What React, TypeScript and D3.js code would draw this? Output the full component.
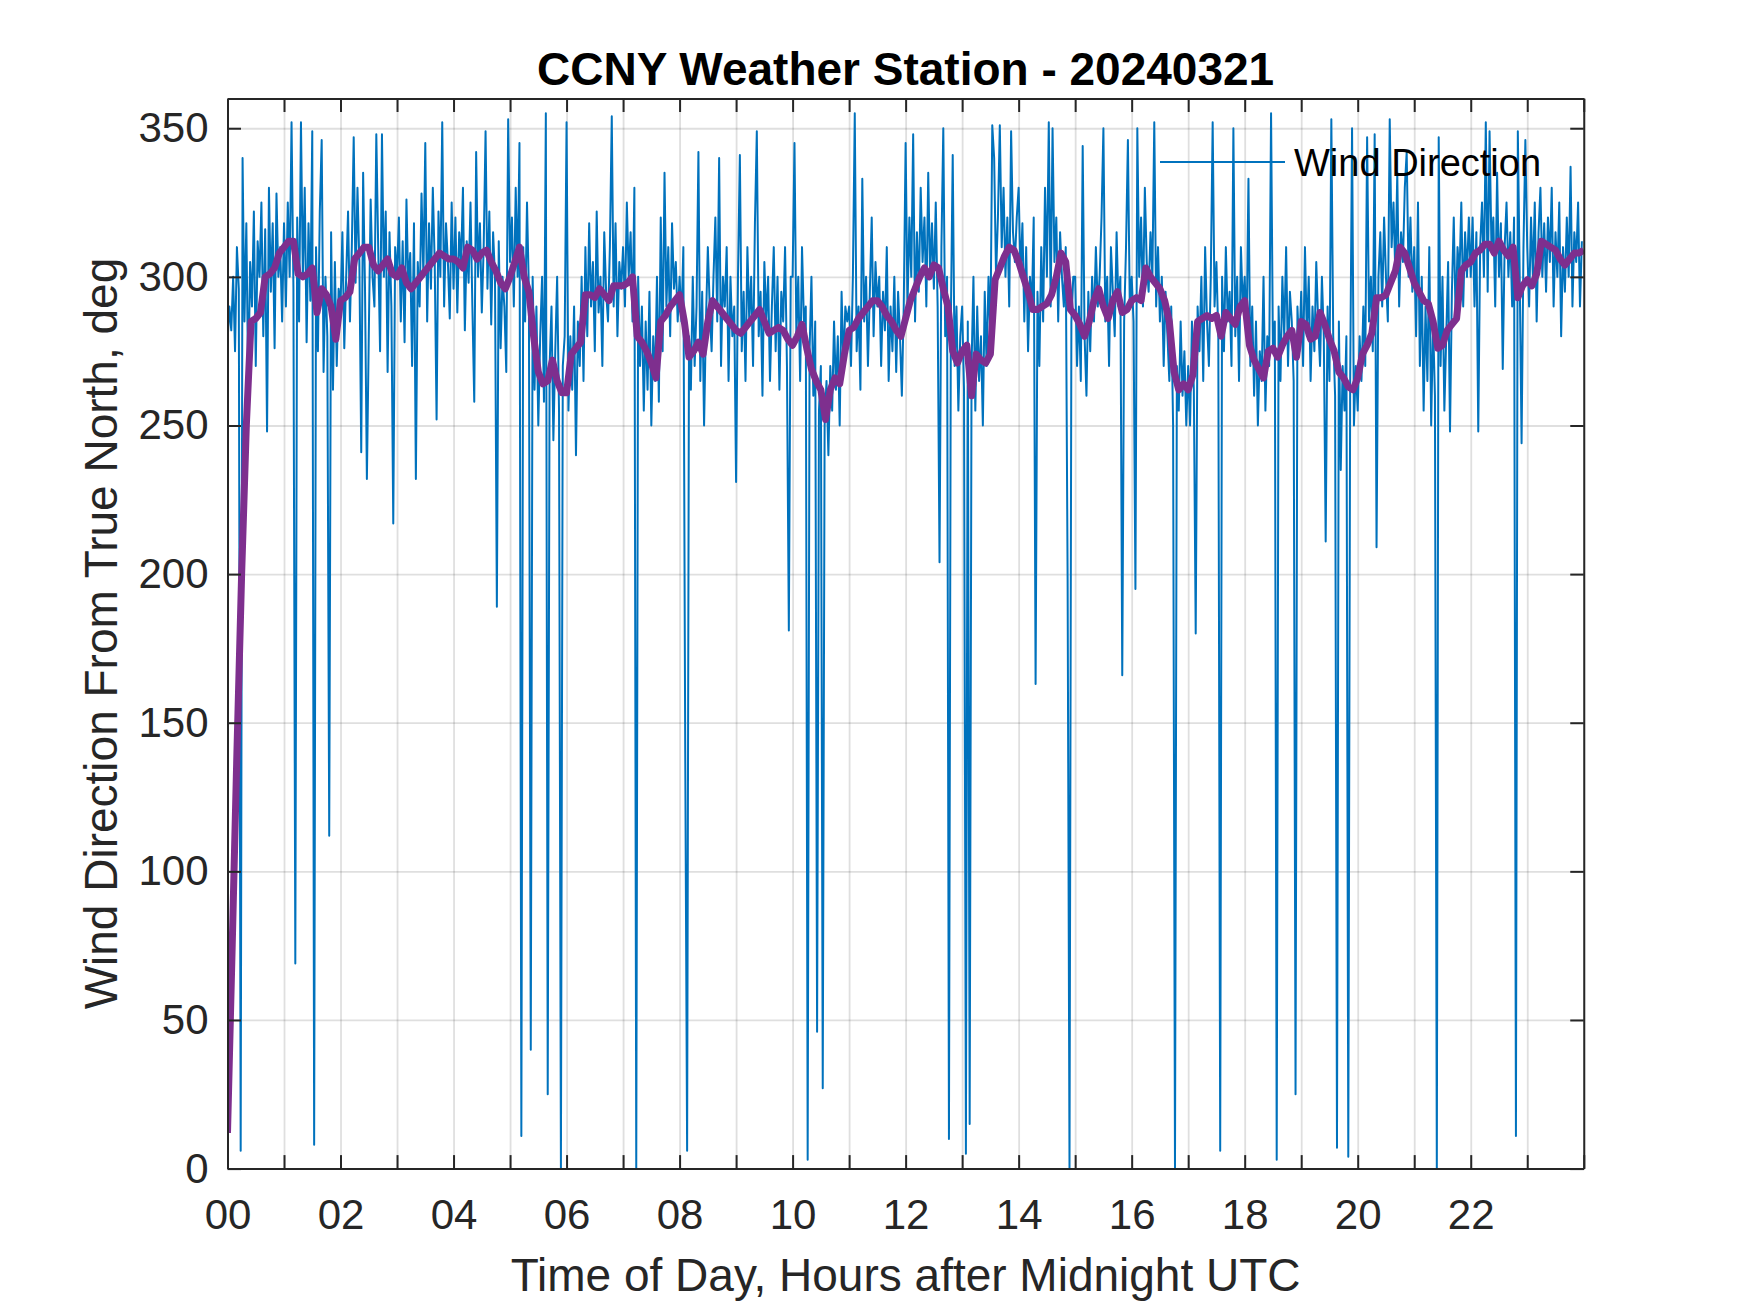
import { useEffect, useRef } from 'react';
import * as d3 from 'd3';

// Wind direction, one reading every 2 minutes, one row per hour (00..23)
const windByHour: number[][] = [
  [278, 290, 282, 300, 275, 310, 296, 6, 340, 285, 318, 262, 305, 290, 322, 270, 312, 300, 325, 280, 316, 248, 330, 295, 318, 276, 328, 300, 310, 285],
  [318, 290, 325, 300, 352, 296, 69, 320, 285, 352, 300, 330, 278, 318, 292, 349, 8, 310, 275, 322, 346, 268, 300, 280, 112, 315, 262, 305, 270, 296],
  [290, 315, 276, 300, 322, 285, 310, 347, 298, 330, 305, 241, 335, 296, 232, 280, 326, 300, 290, 348, 310, 275, 348, 300, 322, 268, 315, 290, 217, 310],
  [300, 320, 285, 312, 278, 326, 296, 308, 270, 318, 232, 305, 290, 328, 300, 345, 285, 318, 296, 330, 305, 252, 322, 300, 352, 290, 318, 305, 286, 325],
  [296, 320, 288, 315, 305, 330, 282, 312, 298, 325, 290, 258, 342, 300, 318, 288, 310, 349, 296, 322, 284, 315, 300, 189, 312, 276, 300, 290, 268, 353],
  [305, 320, 290, 330, 300, 345, 11, 310, 285, 325, 295, 40, 300, 262, 290, 250, 280, 300, 258, 355, 25, 270, 290, 245, 275, 300, 255, 0, 270, 280],
  [352, 255, 280, 262, 290, 240, 285, 270, 300, 265, 310, 280, 318, 290, 305, 275, 322, 288, 300, 270, 315, 295, 285, 310, 354, 290, 318, 280, 305, 296],
  [310, 290, 325, 300, 315, 285, 330, 0, 300, 270, 290, 255, 285, 262, 295, 250, 280, 265, 300, 258, 320, 275, 335, 290, 310, 280, 318, 296, 305, 285],
  [300, 285, 310, 140, 6, 280, 262, 300, 270, 290, 342, 265, 295, 250, 285, 310, 290, 275, 300, 320, 285, 340, 270, 300, 290, 310, 265, 300, 280, 290],
  [231, 300, 341, 275, 295, 265, 310, 285, 300, 270, 318, 349, 280, 295, 260, 305, 285, 300, 265, 290, 310, 275, 300, 262, 295, 285, 310, 270, 181, 300],
  [300, 345, 280, 300, 265, 310, 285, 290, 3, 275, 300, 260, 285, 46, 255, 270, 27, 250, 265, 240, 270, 255, 285, 262, 280, 250, 295, 270, 290, 285],
  [290, 270, 300, 355, 275, 290, 262, 333, 285, 300, 270, 295, 320, 280, 305, 290, 300, 270, 295, 282, 310, 265, 290, 275, 300, 268, 295, 280, 260, 290],
  [345, 290, 320, 300, 348, 285, 315, 295, 330, 305, 320, 290, 335, 300, 318, 296, 325, 290, 204, 310, 350, 280, 300, 10, 285, 341, 270, 290, 255, 280],
  [290, 262, 5, 285, 15, 270, 300, 255, 290, 265, 280, 250, 295, 270, 300, 280, 351, 340, 300, 320, 351, 310, 330, 300, 320, 290, 349, 315, 305, 320],
  [330, 300, 318, 285, 310, 275, 300, 290, 320, 163, 295, 270, 310, 285, 330, 300, 352, 290, 350, 305, 320, 285, 315, 300, 290, 310, 198, 0, 285, 300],
  [300, 270, 290, 265, 344, 280, 260, 295, 275, 300, 285, 310, 290, 300, 320, 350, 285, 300, 270, 310, 295, 280, 315, 290, 300, 166, 285, 310, 346, 290],
  [300, 285, 195, 350, 300, 320, 290, 330, 305, 295, 315, 300, 352, 290, 310, 285, 300, 270, 295, 280, 265, 290, 250, 0, 270, 255, 285, 260, 275, 250],
  [270, 250, 285, 262, 180, 290, 275, 300, 265, 310, 285, 270, 300, 352, 290, 305, 280, 6, 300, 275, 310, 285, 295, 270, 350, 280, 300, 265, 310, 290],
  [300, 280, 333, 270, 290, 260, 285, 250, 275, 265, 300, 255, 280, 270, 355, 275, 285, 3, 290, 265, 300, 280, 310, 270, 295, 285, 265, 25, 290, 275],
  [295, 270, 310, 280, 300, 265, 290, 275, 305, 285, 270, 300, 280, 211, 290, 265, 353, 280, 260, 7, 285, 235, 270, 255, 280, 4, 265, 350, 250, 270],
  [255, 280, 265, 290, 270, 347, 285, 300, 275, 348, 209, 300, 315, 290, 320, 300, 285, 353, 310, 325, 300, 335, 290, 315, 305, 330, 342, 300, 320, 295],
  [310, 280, 325, 270, 300, 255, 290, 265, 310, 250, 285, 260, 0, 347, 270, 300, 255, 280, 305, 248, 295, 320, 285, 310, 300, 325, 290, 315, 300, 320],
  [300, 320, 290, 315, 248, 310, 325, 300, 352, 295, 349, 310, 320, 290, 335, 300, 318, 269, 310, 325, 300, 315, 290, 320, 11, 349, 300, 244, 310, 346],
  [310, 290, 320, 300, 325, 285, 315, 330, 300, 318, 295, 320, 305, 330, 290, 315, 300, 325, 280, 310, 295, 320, 300, 337, 290, 315, 305, 325, 290, 312],
];

// Running mean, one value every 5 minutes, one row per hour
const meanByHour: number[][] = [
  [12, 75, 140, 200, 250, 285, 286, 288, 300, 301, 303, 308],
  [310, 312, 312, 301, 300, 301, 303, 288, 296, 294, 290, 279],
  [292, 293, 295, 306, 308, 310, 310, 304, 302, 304, 306, 301],
  [300, 303, 298, 296, 298, 300, 302, 304, 306, 308, 307, 306],
  [306, 305, 303, 310, 309, 306, 308, 309, 305, 302, 298, 296],
  [300, 305, 310, 300, 295, 280, 268, 264, 265, 272, 265, 261],
  [261, 274, 276, 278, 294, 294, 293, 296, 294, 292, 297, 297],
  [297, 298, 300, 280, 278, 275, 271, 266, 285, 287, 290, 292],
  [294, 285, 273, 275, 278, 274, 285, 292, 290, 288, 286, 284],
  [282, 281, 283, 285, 287, 289, 285, 281, 282, 283, 282, 279],
  [277, 280, 284, 276, 269, 265, 262, 252, 262, 266, 264, 274],
  [282, 283, 286, 288, 290, 292, 292, 290, 287, 285, 282, 280],
  [286, 292, 296, 300, 303, 300, 304, 303, 296, 290, 275, 271],
  [275, 277, 260, 274, 272, 271, 274, 299, 303, 307, 310, 309],
  [305, 300, 295, 289, 289, 290, 291, 294, 300, 308, 305, 289],
  [287, 284, 280, 285, 292, 296, 290, 286, 292, 295, 288, 289],
  [292, 293, 292, 303, 300, 298, 296, 292, 285, 268, 262, 264],
  [262, 267, 285, 286, 287, 286, 287, 280, 288, 286, 284, 290],
  [292, 277, 272, 269, 266, 275, 276, 273, 277, 280, 282, 273],
  [285, 284, 279, 280, 288, 284, 279, 275, 268, 266, 263, 262],
  [266, 274, 277, 281, 293, 293, 294, 298, 302, 310, 308, 303],
  [298, 295, 292, 291, 285, 276, 277, 282, 284, 286, 302, 304],
  [305, 308, 309, 311, 311, 308, 312, 309, 307, 310, 293, 297],
  [299, 297, 301, 312, 311, 310, 309, 306, 304, 306, 308, 308],
];
const meanLast = 309;

const xTickHours = [0, 1, 2, 3, 4, 5, 6, 7, 8, 9, 10, 11, 12, 13, 14, 15, 16, 17, 18, 19, 20, 21, 22, 23, 24];
const xTickLabels: Record<number, string> = {
  0: '00', 2: '02', 4: '04', 6: '06', 8: '08', 10: '10',
  12: '12', 14: '14', 16: '16', 18: '18', 20: '20', 22: '22',
};
const yTickValues = [0, 50, 100, 150, 200, 250, 300, 350];

const TITLE = 'CCNY Weather Station - 20240321';
const X_LABEL = 'Time of Day, Hours after Midnight UTC';
const Y_LABEL = 'Wind Direction From True North, deg';
const LEGEND_LABEL = 'Wind Direction';

const FONT = '"Liberation Sans", Arial, Helvetica, sans-serif';
const AXIS_COLOR = '#262626';
const BLUE = '#0072BD';
const PURPLE = '#7E2F8E';

const W = 1750;
const H = 1313;

export default function App() {
  const ref = useRef<SVGSVGElement>(null);

  useEffect(() => {
    if (!ref.current) return;
    const svg = d3.select(ref.current);
    svg.selectAll('*').remove();

    const margin = { top: 98.5, right: 166.25, bottom: 144.4, left: 227.5 };
    const width = W - margin.left - margin.right;
    const height = H - margin.top - margin.bottom;

    svg.append('rect').attr('width', W).attr('height', H).attr('fill', 'white');

    const g = svg
      .append('g')
      .attr('transform', `translate(${margin.left},${margin.top})`);

    const x = d3.scaleLinear().domain([0, 24]).range([0, width]);
    const y = d3.scaleLinear().domain([0, 360]).range([height, 0]);

    // grid
    const gridX = g
      .append('g')
      .attr('transform', `translate(0,${height})`)
      .call(d3.axisBottom(x).tickValues(xTickHours).tickSize(-height).tickFormat(() => ''));
    const gridY = g
      .append('g')
      .call(d3.axisLeft(y).tickValues(yTickValues).tickSize(-width).tickFormat(() => ''));
    [gridX, gridY].forEach((gg) => {
      gg.select('.domain').remove();
      gg.selectAll('line')
        .attr('stroke', AXIS_COLOR)
        .attr('stroke-opacity', 0.15)
        .attr('stroke-width', 1.8);
    });

    // data
    const windPoints = windByHour.flatMap((row, h) =>
      row.map((v, j) => ({ t: h + j / row.length, v }))
    );
    const meanPoints = meanByHour
      .flatMap((row, h) => row.map((v, j) => ({ t: h + j / row.length, v })))
      .concat([{ t: 24, v: meanLast }]);

    const line = d3
      .line<{ t: number; v: number }>()
      .x((d) => x(d.t))
      .y((d) => y(d.v));

    svg
      .append('defs')
      .append('clipPath')
      .attr('id', 'plot-clip')
      .append('rect')
      .attr('width', width)
      .attr('height', height);

    const plot = g.append('g').attr('clip-path', 'url(#plot-clip)');

    plot
      .append('path')
      .datum(windPoints)
      .attr('fill', 'none')
      .attr('stroke', BLUE)
      .attr('stroke-width', 2)
      .attr('stroke-linejoin', 'round')
      .attr('d', line);

    plot
      .append('path')
      .datum(meanPoints)
      .attr('fill', 'none')
      .attr('stroke', PURPLE)
      .attr('stroke-width', 7)
      .attr('stroke-linejoin', 'round')
      .attr('d', line);

    // axes (ticks point inward, box on)
    const tick = 13.5;
    const styleAxis = (sel: d3.Selection<SVGGElement, unknown, null, undefined>) => {
      sel.attr('font-family', FONT).attr('font-size', 42);
      sel.select('.domain').attr('stroke', AXIS_COLOR).attr('stroke-width', 2);
      sel.selectAll('line').attr('stroke', AXIS_COLOR).attr('stroke-width', 2);
      sel.selectAll('text').attr('fill', AXIS_COLOR);
    };

    g.append('g')
      .attr('transform', `translate(0,${height})`)
      .call(
        d3
          .axisBottom(x)
          .tickValues(xTickHours)
          .tickSizeInner(-tick)
          .tickSizeOuter(0)
          .tickPadding(31)
          .tickFormat((d) => xTickLabels[d as number] ?? '')
      )
      .call(styleAxis);

    g.append('g')
      .call(
        d3
          .axisTop(x)
          .tickValues(xTickHours)
          .tickSizeInner(-tick)
          .tickSizeOuter(0)
          .tickFormat(() => '')
      )
      .call(styleAxis);

    g.append('g')
      .call(
        d3
          .axisLeft(y)
          .tickValues(yTickValues)
          .tickSizeInner(-tick)
          .tickSizeOuter(0)
          .tickPadding(19)
          .tickFormat((d) => `${d}`)
      )
      .call(styleAxis);

    g.append('g')
      .attr('transform', `translate(${width},0)`)
      .call(
        d3
          .axisRight(y)
          .tickValues(yTickValues)
          .tickSizeInner(-tick)
          .tickSizeOuter(0)
          .tickFormat(() => '')
      )
      .call(styleAxis);

    // title and labels
    svg
      .append('text')
      .attr('x', margin.left + width / 2)
      .attr('y', 85)
      .attr('text-anchor', 'middle')
      .attr('font-family', FONT)
      .attr('font-size', 46)
      .attr('font-weight', 'bold')
      .attr('fill', '#000')
      .text(TITLE);

    svg
      .append('text')
      .attr('x', margin.left + width / 2)
      .attr('y', 1291)
      .attr('text-anchor', 'middle')
      .attr('font-family', FONT)
      .attr('font-size', 46)
      .attr('fill', AXIS_COLOR)
      .text(X_LABEL);

    svg
      .append('text')
      .attr('transform', `translate(117,${margin.top + height / 2}) rotate(-90)`)
      .attr('text-anchor', 'middle')
      .attr('font-family', FONT)
      .attr('font-size', 46)
      .attr('fill', AXIS_COLOR)
      .text(Y_LABEL);

    // legend (no box)
    const legend = svg.append('g').attr('transform', 'translate(1160,162)');
    legend
      .append('line')
      .attr('x1', 0)
      .attr('x2', 125)
      .attr('stroke', BLUE)
      .attr('stroke-width', 2);
    legend
      .append('text')
      .attr('x', 134)
      .attr('y', 13.5)
      .attr('font-family', FONT)
      .attr('font-size', 38)
      .attr('fill', '#000')
      .text(LEGEND_LABEL);
  }, []);

  return (
    <svg
      ref={ref}
      width={W}
      height={H}
      viewBox={`0 0 ${W} ${H}`}
      style={{ position: 'absolute', left: 0, top: 0, display: 'block' }}
    />
  );
}
